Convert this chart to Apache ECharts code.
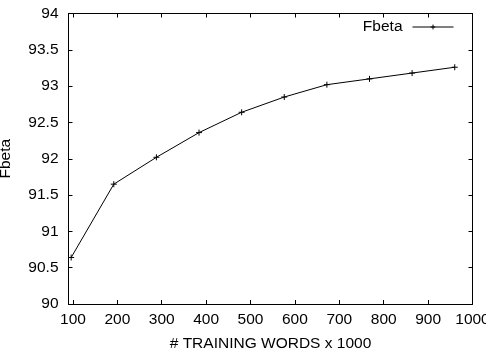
<!DOCTYPE html>
<html>
<head>
<meta charset="utf-8">
<script src="https://cdn.jsdelivr.net/npm/echarts@6/dist/echarts.min.js"></script>
<style>
  html, body { margin: 0; padding: 0; background: #fff; }
  #root { width: 486px; height: 354px; }
</style>
</head>
<body>
<div id="root"></div>
<script>
// training size (x1000 words) and F-beta score
const words = [96, 192, 288, 384, 480, 576, 672, 768, 864, 960]
const fbeta = [90.64, 91.65, 92.02, 92.36, 92.64, 92.85, 93.02, 93.10, 93.18, 93.26]
const xTicks = [100, 200, 300, 400, 500, 600, 700, 800, 900, 1000]

const plus = 'path://M5,0L5,10M0,5L10,5'
const font = 'Liberation Sans, Arial, sans-serif'
const fs = 15.5

const chart = echarts.init(document.getElementById('root'))

const tickStyle = { show: true, inside: true, length: 4, lineStyle: { color: '#000', width: 1 } }

chart.setOption({
  animation: false,
  textStyle: { fontFamily: font },
  grid: { left: 68.5, right: 13.5, top: 13.5, bottom: 50, outerBoundsMode: 'none', containLabel: false },
  legend: {
    right: 27, top: 14,
    align: 'right',
    itemWidth: 41, itemHeight: 6,
    itemGap: 0,
    lineStyle: { width: 1, color: '#000' },
    itemStyle: { color: '#000', borderColor: '#000', borderWidth: 1 },
    textStyle: { fontFamily: font, fontSize: fs, color: '#000', padding: [0, 5, 0, 0] },
    data: [{ name: 'Fbeta' }]
  },
  xAxis: [{
    type: 'value', min: 90, max: 1000,
    name: '# TRAINING WORDS x 1000', nameLocation: 'middle', nameGap: 32,
    nameTextStyle: { fontFamily: font, fontSize: fs, color: '#000' },
    axisLine: { lineStyle: { color: '#000', width: 1 } },
    axisTick: Object.assign({ customValues: xTicks }, tickStyle),
    axisLabel: { customValues: xTicks, color: '#000', fontSize: fs, margin: 8, fontFamily: font,
      formatter: v => String(v) },
    splitLine: { show: false }
  }, {
    type: 'value', min: 90, max: 1000, position: 'top',
    axisLine: { show: true, onZero: false, lineStyle: { color: '#000', width: 1 } },
    axisTick: Object.assign({ customValues: xTicks }, tickStyle),
    axisLabel: { show: false },
    splitLine: { show: false }
  }],
  yAxis: [{
    type: 'value', min: 90, max: 94, interval: 0.5,
    name: 'Fbeta', nameLocation: 'middle', nameGap: 55,
    nameTextStyle: { fontFamily: font, fontSize: fs, color: '#000' },
    axisLine: { show: true, lineStyle: { color: '#000', width: 1 } },
    axisTick: tickStyle,
    axisLabel: { color: '#000', fontSize: fs, margin: 10, fontFamily: font },
    splitLine: { show: false }
  }, {
    type: 'value', min: 90, max: 94, interval: 0.5, position: 'right',
    axisLine: { show: true, onZero: false, lineStyle: { color: '#000', width: 1 } },
    axisTick: tickStyle,
    axisLabel: { show: false },
    splitLine: { show: false }
  }],
  series: [{
    name: 'Fbeta',
    type: 'line',
    data: words.map((w, i) => [w, fbeta[i]]),
    symbol: plus,
    symbolSize: 6,
    showAllSymbol: true,
    lineStyle: { color: '#000', width: 1 },
    itemStyle: { color: '#000', borderColor: '#000', borderWidth: 1 }
  }]
})
</script>
</body>
</html>
